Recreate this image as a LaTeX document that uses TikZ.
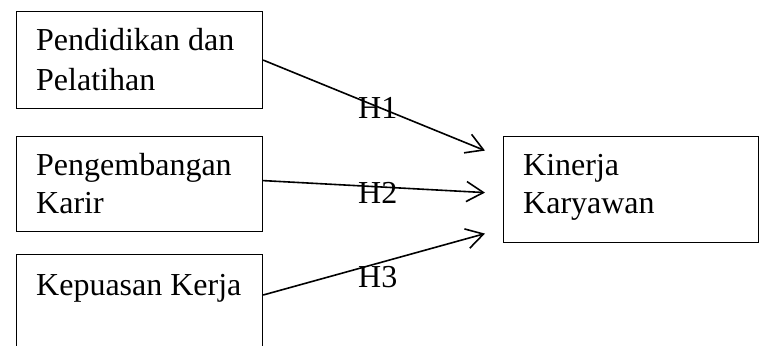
\documentclass[tikz,border=0pt]{standalone}
\usepackage{fontspec}
\setmainfont{Liberation Serif}
\usetikzlibrary{arrows.meta}
\begin{document}
\begin{tikzpicture}[x=1pt,y=-1pt,
  box/.style={draw, line width=1.2pt, rectangle, inner sep=0pt, anchor=north west},
  lbl/.style={inner sep=0pt, anchor=base west, font=\fontsize{32}{38}\selectfont},
  conn/.style={line width=1.6pt, -{Straight Barb[length=17pt,width=20pt,line width=1.6pt]}}]
\useasboundingbox (0,0) rectangle (759,345);
\clip (0,0) rectangle (759,345);
\node[box, minimum width=246pt, minimum height=97pt] (b1) at (16,11) {};
\node[box, minimum width=246pt, minimum height=95pt] (b2) at (16,136) {};
\node[box, minimum width=246pt, minimum height=116pt] (b3) at (16,254) {};
\node[box, minimum width=255pt, minimum height=106pt] (k) at (503,136) {};
\node[lbl] (t1a) at (36,50) {Pendidikan dan};
\node[lbl] (t1b) at (36,90) {Pelatihan};
\node[lbl] (t2a) at (36,175) {Pengembangan};
\node[lbl] (t2b) at (36,213) {Karir};
\node[lbl] (t3a) at (36,295) {Kepuasan Kerja};
\node[lbl] (tka) at (523,175) {Kinerja};
\node[lbl] (tkb) at (523,213) {Karyawan};
\draw[conn] (b1.east) -- ([xshift=-18pt,yshift=39pt]k.west);
\draw[conn] ([yshift=3.5pt]b2.east) -- ([xshift=-18pt,yshift=-3pt]k.west);
\draw[conn] ([yshift=-41pt]b3.north east) -- ([xshift=-18pt,yshift=-44pt]k.west);
\node[lbl] (h1) at (358,118) {H1};
\node[lbl] (h2) at (358,203) {H2};
\node[lbl] (h3) at (358,287) {H3};
\end{tikzpicture}
\end{document}
